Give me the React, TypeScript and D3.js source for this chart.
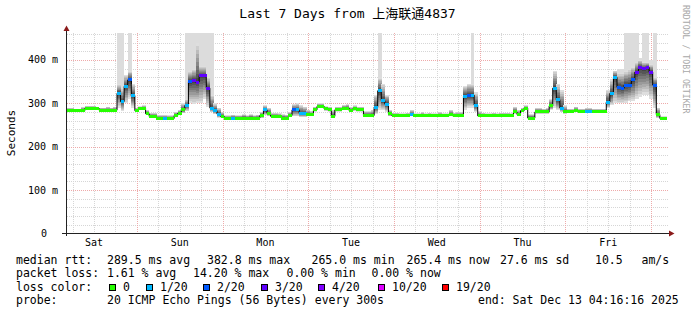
import React from "react";
import * as d3 from "d3";

// ---------- data (hourly consolidated, 7 days) ----------
const HOURS = 168;
const FIRST_MIDNIGHT = 19.55; // hours from start to first midnight (Sat -> Sun)
const dayLabels = ["Sat", "Sun", "Mon", "Tue", "Wed", "Thu", "Fri"];
const yTicks = [0, 100, 200, 300, 400];

const median = [
  283, 283, 283, 283, 283, 288, 288, 288, 288, 284,
  284, 284, 284, 284, 323, 304, 339, 354, 317, 283,
  287, 289, 276, 270, 270, 266, 266, 266, 265, 265,
  272, 277, 285, 295, 350, 352, 349, 364, 364, 335,
  289, 283, 275, 270, 265, 265, 266, 266, 266, 266,
  266, 266, 266, 266, 272, 285, 277, 270, 270, 270,
  266, 266, 272, 285, 285, 277, 277, 274, 274, 285,
  293, 293, 287, 285, 270, 285, 285, 289, 289, 283,
  287, 285, 285, 272, 272, 272, 291, 329, 306, 298,
  276, 271, 271, 271, 271, 271, 274, 271, 271, 271,
  271, 271, 271, 271, 271, 271, 271, 274, 271, 271,
  271, 316, 319, 319, 296, 271, 271, 271, 271, 271,
  271, 271, 271, 271, 271, 280, 274, 283, 289, 266,
  266, 280, 280, 280, 280, 294, 335, 308, 289, 280,
  280, 280, 284, 280, 280, 280, 280, 280, 280, 280,
  280, 303, 323, 360, 337, 335, 342, 342, 354, 372,
  383, 380, 383, 372, 342, 274, 265, 265,
];

const loss = [
  0, 0, 0, 0, 0, 0, 0, 0, 0, 0,
  0, 0, 0, 0, 1, 1, 1, 2, 1, 0,
  0, 0, 0, 0, 0, 0, 0, 1, 0, 0,
  0, 0, 0, 1, 2, 3, 3, 3, 3, 3,
  1, 1, 1, 0, 0, 0, 1, 0, 0, 0,
  0, 0, 0, 0, 0, 1, 0, 0, 0, 0,
  0, 0, 0, 2, 1, 1, 1, 0, 0, 0,
  0, 0, 0, 0, 0, 0, 0, 0, 0, 0,
  0, 0, 0, 0, 0, 0, 1, 1, 1, 1,
  0, 0, 0, 0, 0, 0, 1, 0, 0, 0,
  0, 0, 0, 0, 0, 0, 0, 0, 0, 0,
  0, 1, 2, 1, 1, 0, 0, 0, 0, 0,
  0, 0, 0, 0, 0, 0, 0, 0, 0, 0,
  0, 0, 0, 0, 0, 0, 1, 1, 1, 0,
  0, 0, 0, 0, 0, 1, 1, 0, 0, 0,
  0, 1, 1, 1, 2, 2, 2, 2, 2, 3,
  3, 3, 3, 3, 2, 0, 0, 0,
];

const smokeLow = [
  281, 281, 281, 281, 281, 285, 285, 285, 285, 282,
  282, 282, 282, 282, 290, 282, 300, 310, 290, 280,
  284, 286, 272, 267, 267, 263, 263, 263, 262, 262,
  269, 272, 277, 282, 300, 298, 300, 300, 310, 292,
  280, 275, 267, 266, 262, 262, 263, 263, 263, 263,
  263, 263, 263, 263, 266, 272, 270, 267, 267, 267,
  263, 263, 268, 270, 270, 268, 268, 270, 270, 281,
  289, 289, 283, 281, 267, 281, 281, 285, 285, 280,
  283, 281, 281, 269, 269, 269, 275, 285, 285, 280,
  270, 268, 268, 268, 268, 268, 270, 268, 268, 268,
  268, 268, 268, 268, 268, 268, 268, 270, 268, 268,
  268, 285, 290, 290, 280, 268, 268, 268, 268, 268,
  268, 268, 268, 268, 268, 276, 270, 279, 285, 263,
  263, 276, 276, 276, 276, 285, 290, 285, 280, 276,
  277, 277, 280, 277, 277, 277, 277, 277, 277, 277,
  277, 290, 295, 300, 300, 300, 300, 305, 305, 310,
  315, 320, 320, 310, 290, 266, 262, 262,
];

const smokeHigh = [
  290, 290, 288, 288, 292, 294, 294, 294, 292, 290,
  290, 292, 290, 292, 345, 335, 365, 375, 345, 290,
  293, 295, 285, 278, 278, 273, 273, 273, 272, 272,
  280, 285, 300, 310, 375, 380, 440, 385, 385, 360,
  320, 300, 290, 280, 272, 272, 274, 272, 272, 275,
  272, 275, 272, 274, 280, 295, 290, 278, 278, 277,
  275, 274, 280, 298, 300, 296, 292, 285, 282, 292,
  300, 300, 293, 292, 285, 292, 292, 296, 298, 292,
  295, 292, 292, 282, 282, 285, 320, 360, 345, 320,
  285, 278, 278, 277, 277, 278, 285, 277, 277, 280,
  277, 278, 277, 277, 280, 277, 277, 285, 278, 280,
  280, 340, 345, 345, 325, 282, 278, 277, 277, 278,
  277, 278, 278, 278, 277, 292, 285, 290, 295, 275,
  275, 290, 290, 288, 290, 310, 375, 345, 330, 295,
  288, 288, 292, 288, 288, 290, 290, 288, 288, 288,
  288, 330, 355, 375, 370, 370, 375, 380, 385, 395,
  400, 395, 395, 390, 360, 290, 270, 270,
];

const smokeMax = [
  290, 290, 288, 288, 292, 294, 294, 294, 292, 290,
  290, 292, 290, 292, 470, 470, 365, 470, 345, 290,
  293, 295, 285, 278, 278, 273, 273, 273, 272, 272,
  280, 285, 300, 470, 470, 470, 470, 470, 470, 470,
  470, 300, 290, 280, 272, 272, 274, 272, 272, 275,
  272, 275, 272, 274, 280, 295, 290, 278, 278, 277,
  275, 274, 280, 298, 300, 296, 292, 285, 282, 292,
  300, 300, 293, 292, 285, 292, 292, 296, 298, 292,
  295, 292, 292, 282, 282, 285, 320, 470, 345, 320,
  285, 278, 278, 277, 277, 278, 285, 277, 277, 280,
  277, 278, 277, 277, 280, 277, 277, 285, 278, 280,
  280, 340, 345, 470, 325, 282, 278, 277, 277, 278,
  277, 278, 278, 278, 277, 292, 285, 290, 295, 275,
  275, 290, 290, 288, 290, 310, 375, 345, 330, 295,
  288, 288, 292, 288, 288, 290, 290, 288, 288, 288,
  288, 330, 355, 375, 380, 380, 470, 470, 470, 470,
  405, 470, 470, 400, 470, 290, 270, 270,
];

const lossLevels = [0, 1, 2, 3, 4, 10, 19];
const lossLabels = ["0", "1/20", "2/20", "3/20", "4/20", "10/20", "19/20"];
const lossColors = ["#26ff00", "#00b8ff", "#0059ff", "#5e00ff", "#7e00ff", "#dd00ff", "#ff0000"];
const lossBoxX = [109, 146, 203, 261, 318, 378, 442];

const legendRow1 = [
  [16, "median rtt:"], [107, "289.5 ms avg"], [207, "382.8 ms max"], [311.5, "265.0 ms min"],
  [406.5, "265.4 ms now"], [500, "27.6 ms sd"], [595, "10.5"], [641.5, "am/s"],
];
const legendRow2 = [
  [16, "packet loss:"], [107, "1.61 % avg"], [193, "14.20 % max"], [286.5, "0.00 % min"], [371.5, "0.00 % now"],
];
const legendRow4 = [
  [16, "probe:"], [107, "20 ICMP Echo Pings (56 Bytes) every 300s"], [478, "end: Sat Dec 13 04:16:16 2025"],
];

const TITLE = "Last 7 Days from 上海联通4837";

export default function App() {
  const W = 697, H = 315;
  const X0 = 67, X1 = 667, YB = 233.5, YT = 33;
  const x = d3.scaleLinear().domain([0, HOURS]).range([X0, X1]);
  const y = d3.scaleLinear().domain([0, 462]).range([YB, YT]);
  const mono = "'DejaVu Sans Mono', 'Noto Sans CJK SC', monospace";

  const colorFor = (l: number) => {
    let c = lossColors[0];
    lossLevels.forEach((lv, i) => { if (l >= lv) c = lossColors[i]; });
    return c;
  };

  const minorH = d3.range(20, 462, 20).filter((v) => v % 100 !== 0);
  const majorH = [100, 200, 300, 400];
  const vLines = d3.range(FIRST_MIDNIGHT % 6, HOURS, 6);
  const isMidnight = (h: number) => Math.abs(((h - FIRST_MIDNIGHT) % 24 + 24) % 24) < 0.01;

  const N = 10;
  const shade = d3.interpolateRgb("#dedede", "#454545");

  const stepData: [number, number][] = median.map((m, i) => [i, m] as [number, number]);
  stepData.push([HOURS, median[HOURS - 1]]);
  const stepLine = d3.line<[number, number]>()
    .x((d) => x(d[0]))
    .y((d) => y(d[1]))
    .curve(d3.curveStepAfter);

  const hw = x(1) - x(0);

  return (
    <svg width={W} height={H} style={{ position: "absolute", left: 0, top: 0, background: "#fff" }}
      fontFamily={mono}>
      <rect x={0} y={0} width={W} height={H} fill="#ffffff" />
      <defs>
        <clipPath id="plot">
          <rect x={X0} y={YT} width={X1 - X0 + 1} height={YB - YT} />
        </clipPath>
      </defs>

      {/* title */}
      <text x={347.5} y={18} textAnchor="middle" fontSize={13} fill="#000">{TITLE}</text>

      {/* watermark */}
      <text transform="translate(683,5) rotate(90)" fontSize={8.2} fill="#a8a8a8">RRDTOOL / TOBI OETIKER</text>

      {/* y axis title */}
      <text transform="translate(15,133) rotate(-90)" textAnchor="middle" fontSize={11} fill="#000">Seconds</text>

      {/* grid */}
      <g shapeRendering="crispEdges">
        {minorH.map((v) => (
          <line key={"mh" + v} x1={X0} x2={X1 + 2} y1={Math.round(y(v)) + 0.5} y2={Math.round(y(v)) + 0.5}
            stroke="#d6d6d6" strokeDasharray="1,1" />
        ))}
        {vLines.filter((h) => !isMidnight(h)).map((h) => (
          <line key={"mv" + h} x1={Math.round(x(h)) + 0.5} x2={Math.round(x(h)) + 0.5} y1={YT} y2={YB}
            stroke="#d6d6d6" strokeDasharray="1,1" />
        ))}
        {majorH.map((v) => (
          <line key={"Mh" + v} x1={X0} x2={X1 + 2} y1={Math.round(y(v)) + 0.5} y2={Math.round(y(v)) + 0.5}
            stroke="#eeaaaa" strokeDasharray="1,1" />
        ))}
        {vLines.filter((h) => isMidnight(h)).map((h) => (
          <line key={"Mv" + h} x1={Math.round(x(h)) + 0.5} x2={Math.round(x(h)) + 0.5} y1={YT} y2={YB}
            stroke="#eeaaaa" strokeDasharray="1,1" />
        ))}
      </g>

      {/* smoke */}
      <g clipPath="url(#plot)" shapeRendering="crispEdges">
        {median.map((m, i) => {
          const x0 = x(i);
          const parts = [];
          if (smokeMax[i] > smokeHigh[i]) {
            parts.push(
              <rect key={"t" + i} x={x0} width={hw + 0.3} y={y(smokeMax[i])}
                height={y(smokeLow[i]) - y(smokeMax[i])} fill="#dcdcdc" />
            );
          }
          for (let k = 0; k < N; k++) {
            const f = (N - k) / N;
            const lo = m - (m - smokeLow[i]) * f;
            const hi = m + (smokeHigh[i] - m) * f;
            parts.push(
              <rect key={"b" + i + "_" + k} x={x0} width={hw + 0.3} y={y(hi)}
                height={Math.max(0, y(lo) - y(hi))} fill={shade(k / (N - 1))} />
            );
          }
          return <g key={"s" + i}>{parts}</g>;
        })}
      </g>

      {/* median line */}
      <g clipPath="url(#plot)">
        <path d={stepLine(stepData) || ""} fill="none" stroke="#000" strokeWidth={1} />
        <g shapeRendering="crispEdges">
          {median.map((m, i) => (
            <rect key={"m" + i} x={x(i)} width={hw + 0.3} y={y(m) - 1.5} height={3} fill={colorFor(loss[i])} />
          ))}
        </g>
      </g>

      {/* axes */}
      <g shapeRendering="crispEdges">
        <line x1={62} x2={670} y1={233.5} y2={233.5} stroke="#222" />
        <line x1={66.5} x2={66.5} y1={236} y2={29} stroke="#222" />
      </g>
      <polygon points="63.5,31 69.5,31 66.5,25.5" fill="#8b1a1a" />
      <polygon points="669,230.5 669,236.5 674.5,233.5" fill="#8b1a1a" />

      {/* y tick labels */}
      {yTicks.map((v) => (
        <text key={"yl" + v} x={v === 0 ? 47 : 58} y={y(v) + 3.5} textAnchor="end" fontSize={10} fill="#000">
          {v === 0 ? "0" : `${v} m`}
        </text>
      ))}

      {/* x labels at noon */}
      {dayLabels.map((d, i) => (
        <text key={d} x={x(FIRST_MIDNIGHT - 12 + 24 * i)} y={246} textAnchor="middle" fontSize={10} fill="#000">{d}</text>
      ))}

      {/* legend */}
      <g fontSize={11.5} fill="#000">
        {legendRow1.map(([lx, t]) => (
          <text key={"r1" + t} x={lx as number} y={263.5}>{t as string}</text>
        ))}
        {legendRow2.map(([lx, t]) => (
          <text key={"r2" + t} x={lx as number} y={277}>{t as string}</text>
        ))}
        <text x={16} y={290.5}>loss color:</text>
        {lossLabels.map((l, i) => (
          <g key={"lg" + l}>
            <rect x={lossBoxX[i] + 0.5} y={284.5} width={6} height={6} fill={lossColors[i]} stroke="#000" strokeWidth={1}
              shapeRendering="crispEdges" />
            <text x={lossBoxX[i] + 14} y={290.5}>{l}</text>
          </g>
        ))}
        {legendRow4.map(([lx, t]) => (
          <text key={"r4" + t} x={lx as number} y={304}>{t as string}</text>
        ))}
      </g>
    </svg>
  );
}
